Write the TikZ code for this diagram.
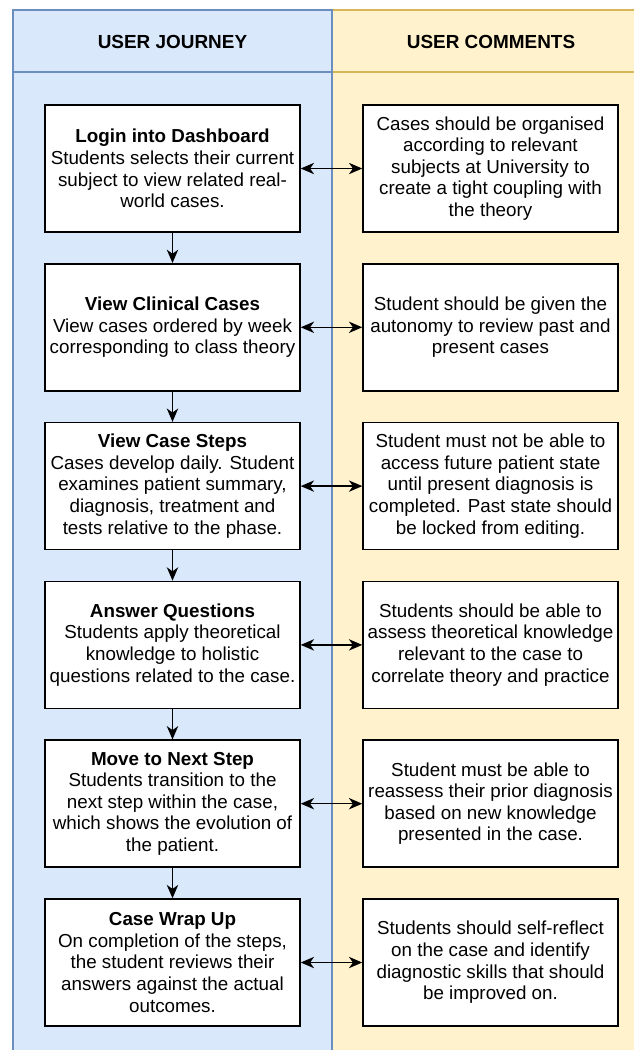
\documentclass[tikz,border=0pt]{standalone}
\usepackage{fontspec}
\setmainfont{Liberation Sans}
\usetikzlibrary{arrows.meta}
\definecolor{journeyfill}{RGB}{218,232,252}
\definecolor{journeyline}{RGB}{108,142,191}
\definecolor{commentfill}{RGB}{255,242,204}
\definecolor{commentline}{RGB}{214,182,86}

\begin{document}
\begin{tikzpicture}[x=0.75pt,y=0.75pt,yscale=-1,xscale=1,
  stepbox/.style={draw, fill=white, line width=1.1pt, minimum width=191.25pt, minimum height=95.25pt, align=center, inner sep=1pt, font=\fontsize{14.1}{16.2}\selectfont},
  headtext/.style={inner sep=0.75pt, font=\fontsize{14.2}{16}\selectfont\bfseries},
  flow/.style={line width=1.1pt, -{Stealth[length=10pt,width=8.5pt,inset=3pt]}},
  both/.style={line width=1.1pt, {Stealth[length=10pt,width=8.5pt,inset=3pt]}-{Stealth[length=10pt,width=8.5pt,inset=3pt]}}]
\useasboundingbox (0,0) rectangle (634,1050);
\clip (0,0) rectangle (634,1050);

%Lanes
\draw [draw=commentline, fill=commentfill, line width=1pt] (332,10) rectangle (660,1070);
\draw [draw=commentline, line width=1pt] (332,72) -- (660,72);
\draw [draw=journeyline, fill=journeyfill, line width=1pt] (13,10) rectangle (332,1070);
\draw [draw=journeyline, line width=1pt] (13,72) -- (332,72);

% Text Node
\node [headtext] (hjourney) at (172.5,41.5) {USER JOURNEY};
% Text Node
\node [headtext] (hcomments) at (491,41.5) {USER COMMENTS};

% Journey steps
\node [stepbox] (login) at (172.5,168.5) {\textbf{Login into Dashboard}\\Students selects their current\\subject to view related real-\\world cases.};
\node [stepbox] (clinical) at (172.5,327.3) {\textbf{View Clinical Cases}\\View cases ordered by week\\corresponding to class theory};
\node [stepbox] (casesteps) at (172.5,486.1) {\textbf{View Case Steps}\\Cases develop daily. Student\\examines patient summary,\\diagnosis, treatment and\\tests relative to the phase.};
\node [stepbox] (questions) at (172.5,644.9) {\textbf{Answer Questions}\\Students apply theoretical\\knowledge to holistic\\questions related to the case.};
\node [stepbox] (nextstep) at (172.5,803.7) {\textbf{Move to Next Step}\\Students transition to the\\next step within the case,\\which shows the evolution of\\the patient.};
\node [stepbox] (wrapup) at (172.5,962.5) {\textbf{Case Wrap Up}\\On completion of the steps,\\the student reviews their\\answers against the actual\\outcomes.};

% Comments
\node [stepbox] (clogin) at (490.5,168.5) {Cases should be organised\\according to relevant\\subjects at University to\\create a tight coupling with\\the theory};
\node [stepbox] (cclinical) at (490.5,327.3) {Student should be given the\\autonomy to review past and\\present cases};
\node [stepbox] (ccasesteps) at (490.5,486.1) {Student must not be able to\\access future patient state\\until present diagnosis is\\completed. Past state should\\be locked from editing.};
\node [stepbox] (cquestions) at (490.5,644.9) {Students should be able to\\assess theoretical knowledge\\relevant to the case to\\correlate theory and practice};
\node [stepbox] (cnextstep) at (490.5,803.7) {Student must be able to\\reassess their prior diagnosis\\based on new knowledge\\presented in the case.};
\node [stepbox] (cwrapup) at (490.5,962.5) {Students should self-reflect\\on the case and identify\\diagnostic skills that should\\be improved on.};

%Straight Lines
\draw [flow] (login) -- (clinical);
\draw [flow] (clinical) -- (casesteps);
\draw [flow] (casesteps) -- (questions);
\draw [flow] (questions) -- (nextstep);
\draw [flow] (nextstep) -- (wrapup);

%Straight Lines
\draw [both] (login) -- (clogin);
\draw [both] (clinical) -- (cclinical);
\draw [both] (casesteps) -- (ccasesteps);
\draw [both] (questions) -- (cquestions);
\draw [both] (nextstep) -- (cnextstep);
\draw [both] (wrapup) -- (cwrapup);

\end{tikzpicture}
\end{document}
